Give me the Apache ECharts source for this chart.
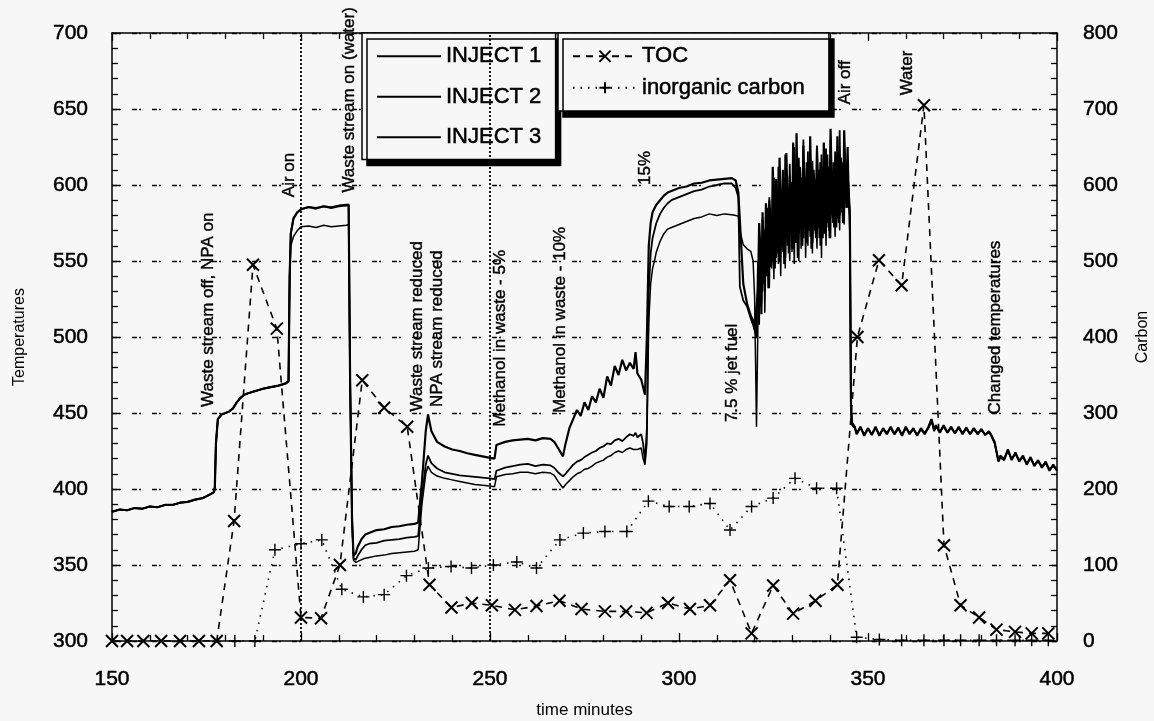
<!DOCTYPE html>
<html><head><meta charset="utf-8">
<script src="https://cdn.jsdelivr.net/npm/echarts@6/dist/echarts.min.js"></script>
<style>html,body{margin:0;padding:0;background:#f7f7f7}#chart{width:1154px;height:721px}</style>
</head><body><div id="chart"></div>
<script>
// ---------- DATA ----------
const minutes = [
 150,152,154,156,158,160,162,164,166,168,170,172,174,176,177,
 177.2,177.5,178,179,180,181,182,183,184,185,186,188,190,192,194,196,196.7,
 197,197.3,198,199,200,202,204,206,208,210,212,212.6,
 213,213.5,213.9,214.5,215,216,217,218,220,222,224,226,228,230,231,232,233,233.6,234.5,236,238,240,242,244,246,248,250,251.2,251.7,
 252,254,256,258,260,262,264,266,267,268,269.3,
 270,271,272,273,274,275,276,277,278,279,280,281,282,283,284,285,286,287,288,288.5,289,290,290.5,291,291.5,
 292,292.5,293,293.6,294,295,296,297,298,300,302,304,306,308,310,312,314,315,315.7,316.1,317,318,319,319.6,320,320.5,
 320.9,321.2,321.5,321.8,322.1,322.4,322.7,323.0,323.3,323.6,
 323.9,324.2,324.5,324.8,325.1,325.4,325.7,326.0,326.3,326.6,
 326.9,327.2,327.5,327.8,328.1,328.4,328.7,329.0,329.3,329.6,
 329.9,330.2,330.5,330.8,331.1,331.4,331.7,332.0,332.3,332.6,
 332.9,333.2,333.5,333.8,334.1,334.4,334.7,335.0,335.3,335.6,
 335.9,336.2,336.5,336.8,337.1,337.4,337.7,338.0,338.3,338.6,
 338.9,339.2,339.5,339.8,340.1,340.4,340.7,341.0,341.3,341.6,
 341.9,342.2,342.5,342.8,343.1,343.4,343.7,344.0,344.3,344.6,
 344.9,
 345.2,345.5,345.8,346.5,
 347,348,349,350,351,352,353,354,355,356,357,358,359,360,361,362,363,364,365,366,
 366.8,367.5,
 368,369,370,371,372,373,374,375,376,377,378,379,380,381,382,
 382.5,383.5,384.5,
 385,386,387,388,389,390,391,392,393,394,395,396,397,398,399,400
];
// 150 - 196.7 min: the three thermocouples coincide
const sharedStart = [
 385,386.5,386,387.5,387,388.5,388,389.5,389.5,391,391.5,393,394,396.5,398,
 401,430,446,449,450,451,453,457,460,462,463,464.5,466,467,468,469.5,471
];
const inject1Rest = [
 540,560,566,570,572.5,573,572,573.5,572.5,573,573.5,574,
 470,380,353,351.7,352,353.5,354.5,355,356,356.5,357.5,358,358.5,359,360,390,410,415,411,408.5,407,406,405,404,403,402.5,402,401.5,408,
 409,409.5,410,411,411,410,411,410.5,409,405,400.7,
 403,405.5,408,410,411,413,413.5,415,417,418,419,421,422,424,425,424,426,427,426,427,426,427,420,416,430,
 510,535,545,551,556,563,568,571,572,574,576,578,579,581,580,581,580.5,580,579.4,570,560.7,558,556.3,550,526.7,441,
 512,548,520,560,530,572,516,555,540,578,
 532,585,545,568,538,590,552,575,548,598,
 540,582,556,604,545,590,560,576,550,600,
 556,585,548,606,562,592,550,610,558,588,
 565,602,552,596,560,615,566,592,555,606,
 570,590,558,604,565,598,552,612,568,594,
 560,608,572,596,565,615,575,600,566,618,
 578,604,570,612,582,598,574,620,585,606,
 600,
 585,452,444,441,
 436.5,440.5,435.5,440,436,440.5,435.5,439.5,436.5,440.5,436.5,440,435.5,440.5,436.5,439.5,435.5,439.5,436.5,440.5,
 445.5,438.5,
 441.5,437.5,441.5,437,440.5,437,440.5,436.5,440,436.5,439.5,436.5,439,435.5,437.5,
 436,430.5,418.5,
 421.5,419.5,425.5,419.5,423.5,418.5,421.5,416.5,420.5,415.5,418.5,414.5,417.5,412.5,415.5,412.5
];
const inject2Rest = [
 540,568,578,582,584,585.5,585,586,585.5,586.5,587,587,
 470,380,354,353.5,356,360,363,364,364.5,366,366.5,367,368,368.5,369,395,416,422,417,413.5,411,410,409,408.5,408,407.5,407,406.5,412,
 413,414,415,416,416.5,415,416,415.5,414,411,408.3,
 410,413,416,418,419,421,422.5,424,425,427,428,430,429.5,432,433,431.5,434,436,435,437,434,436,430,418,440,
 530,555,565,571,575,581,585,588,590,592,594,596,597,599,600,601,601,598,592,533,524,520,512,508,507,500,
 550,508,565,522,578,535,570,545,585,532,
 592,546,580,555,605,545,598,560,612,550,
 596,562,608,548,620,565,600,555,614,570,
 602,558,625,565,598,552,618,570,605,560,
 630,575,600,562,622,570,608,558,616,575,
 604,565,626,572,610,560,620,578,606,568,
 624,575,612,565,630,580,608,572,622,585,
 610,575,636,588,615,578,628,590,612,585,
 595,
 570,450,442,440,
 437,440,436,439.5,436,440,436,439,437,440,436,439.5,436,440,437,439,436,439,437,440,
 445,438,
 441,438,441,437.5,440,437,440,437,439.5,436.5,439,437,438.5,436,437,
 435.5,430,419,
 422,420,425,420,423,419,421,417,420,416,418,415,417,413,415,413
];
const inject3Rest = [
 540,568,578,582,584,585.5,584.5,586,585,586,586.5,587,
 470,380,356,357.9,362,367,370,371,373,373.5,375,375.5,376.5,377,378,405,438,449,438,431,428,426,425,423.5,422.5,421.5,420.5,420,429,
 430,431,432,432.5,433,432,433.5,433,431,427,421.5,
 430,440,446,452,448,457,452,461,457,466,460,474,468,481,475,485,478,483,479,490,476,472,467,462,500,
 560,575,582,585,587,590,593,595,596,598,599,601,601.5,603,603.5,604,604.5,603,595,577,535,522,514,511,505,520,
 530,575,560,515,582,550,540,588,568,545,
 590,575,550,612,585,548,604,590,555,618,
 588,560,610,595,552,621,590,565,606,585,
 558,628,600,562,634,590,568,612,596,560,
 626,600,565,615,592,570,632,598,562,610,
 595,568,624,600,572,615,590,565,628,605,
 575,620,598,570,637,602,578,615,595,572,
 632,605,580,618,598,575,636,608,585,625,
 590,
 580,455,443,441,
 436,441,435,440,435.5,441,435,440,436,441,436,440.5,435,441,436,440,435,440,436,441,
 446,439,
 442,437,442,437,441,436.5,441,436,440.5,436,440,436,439.5,435.5,438,
 436,431,418,
 421,419,426,419,424,418,422,416,421,415,419,414,418,412,416,412
];
// TOC and inorganic carbon samples: [minute, carbon]
const tocSamples = [
 [150,0],[154,0],[158.3,0],[163,0],[168,0],[173,0],[177.7,0],[182.3,158],[187.3,495],[193.6,411],
 [200,31],[205.3,30],[210.3,100],[216.2,343],[222,307],[228.1,282],[234,74],[239.8,44],[245.2,50],[250.5,47],
 [256.6,41],[262.3,46],[268.4,53],[274.2,42],[280.4,39],[286,39],[291.4,37],[297.1,50],[302.9,42],[308.2,47],
 [313.5,80],[319.2,10],[324.9,73],[330.2,36],[336.1,53],[341.9,74],[347.2,400],[352.9,501],[358.9,468],[364.8,705],
 [370.1,126],[374.5,47],[379.4,31],[384,15],[388.9,12],[393.3,10],[397.7,10]
];
const inorganicSamples = [
 [182.5,0],[187.8,0],[193.1,120],[200,128],[205.5,133],[210.8,68],[216.5,58],[222,61],[227.9,86],[233.7,96],
 [239.7,98],[245.1,96],[250.9,100],[257.1,104],[262.3,96],[268.5,133],[274.7,142],[280.4,144],[286.2,144],[291.9,184],
 [297.4,177],[302.7,177],[308.2,181],[313.5,146],[319.2,177],[324.9,188],[330.7,214],[336.4,201],[341.7,201],
 [347,5],[353,2],[358.9,1],[364.8,1],[370.1,1],[374.5,1],[379.4,1],[384,1],[388.9,1],[393.3,1],[397.7,1]
];
const eventLines = [200, 250];
// annotation text, minute, temperature at text start
const annotations = [
 ['Waste stream off, NPA on', 175.4, 454],
 ['Air on', 197.0, 592],
 ['Waste stream on (water)', 212.9, 595],
 ['Waste stream reduced', 230.7, 451],
 ['NPA stream reduced', 236.0, 454],
 ['Methanol in waste - 5%', 252.6, 441],
 ['Methanol in waste - 10%', 268.5, 450],
 ['15%', 291.0, 600],
 ['7.5 % jet fuel', 314.0, 444],
 ['Air off', 343.9, 653],
 ['Water', 360.3, 659],
 ['Changed temperatures', 383.6, 449]
];
const seriesNames = ['INJECT 1', 'INJECT 2', 'INJECT 3', 'TOC', 'inorganic carbon'];

// ---------- BUILD ----------
const inj = [inject1Rest, inject2Rest, inject3Rest].map(r => sharedStart.concat(r));
const zip = vals => minutes.map((t, i) => [t, vals[i]]);
const mismatch = inj.some(v => v.length !== minutes.length);

const FONT = '"Liberation Sans", Arial, Helvetica, sans-serif';
const X_PATH = 'path://M0 0L10 10M10 0L0 10';
const PLUS_PATH = 'path://M5 0L5 10M0 5L10 5';
const BOLDEN = {textBorderColor: '#000', textBorderWidth: 0.5};

const chart = echarts.init(document.getElementById('chart'));
const tickStyle = {color: '#000', width: 1.3};
const legendCommon = {
  orient: 'vertical', itemWidth: 64, selectedMode: false,
  backgroundColor: '#f7f7f7', borderColor: '#000', borderWidth: 1.5,
  shadowColor: '#000', shadowBlur: 0, shadowOffsetX: 5, shadowOffsetY: 6,
  textStyle: Object.assign({fontSize: 22, color: '#000', fontFamily: FONT}, BOLDEN)
};
const injWidths = [1.5, 1.8, 2.2];
const series = inj.map((vals, k) => ({
  name: seriesNames[k], type: 'line', data: zip(vals), symbol: 'none',
  lineStyle: {color: '#000', width: injWidths[k]}, itemStyle: {color: '#000'},
  animation: false, z: 3,
  markLine: k === 2 ? {silent: true, symbol: 'none', label: {show: false}, animation: false,
    lineStyle: {color: '#000', type: [2, 2], width: 1.8},
    data: eventLines.map(v => ({xAxis: v}))} : undefined
}));
series.push({
  name: seriesNames[3], type: 'line', yAxisIndex: 1, data: tocSamples,
  symbol: X_PATH, symbolSize: 12, showAllSymbol: true,
  itemStyle: {color: '#000', borderColor: '#000', borderWidth: 2},
  lineStyle: {color: '#000', width: 1.6, type: [7, 6]}, animation: false, z: 4
});
series.push({
  name: seriesNames[4], type: 'line', yAxisIndex: 1, data: inorganicSamples,
  symbol: PLUS_PATH, symbolSize: 12, showAllSymbol: true,
  itemStyle: {color: '#000', borderColor: '#000', borderWidth: 1.4},
  lineStyle: {color: '#000', width: 1.6, type: [1.5, 6]}, animation: false, z: 4
});

const labelStyle = Object.assign({fontSize: 21, color: '#000', fontFamily: FONT}, BOLDEN);

chart.setOption({
  backgroundColor: '#f7f7f7',
  animation: false,
  grid: {left: 112, right: 97, top: 33, bottom: 80, containLabel: false, outerBoundsMode: 'none'},
  legend: [
    Object.assign({}, legendCommon, {
      data: seriesNames.slice(0, 3).map(n => ({name: n, icon: 'rect'})),
      itemHeight: 2, left: 362, top: 33, itemGap: 18, padding: [12, 14, 11, 15]}),
    Object.assign({}, legendCommon, {data: seriesNames.slice(3), itemHeight: 14,
      left: 558, top: 33, itemGap: 9, padding: [12, 24, 12, 14]})
  ],
  xAxis: [
    {type: 'value', min: 150, max: 400, interval: 50, position: 'bottom',
     name: 'time minutes', nameLocation: 'middle', nameGap: 61,
     nameTextStyle: {fontSize: 17, color: '#000', fontFamily: FONT},
     axisLine: {lineStyle: {color: '#000', width: 1.5}},
     axisTick: {inside: true, length: 8, lineStyle: tickStyle},
     minorTick: {show: true, splitNumber: 5, length: 6, lineStyle: tickStyle},
     axisLabel: Object.assign({margin: 28}, labelStyle),
     splitLine: {show: false}},
    {type: 'value', min: 150, max: 400, interval: 50, position: 'top',
     axisLine: {lineStyle: {color: '#000', width: 1.5}},
     axisTick: {inside: true, length: 8, lineStyle: tickStyle},
     minorTick: {show: true, splitNumber: 5, length: 6, lineStyle: tickStyle},
     axisLabel: {show: false}, splitLine: {show: false}}
  ],
  yAxis: [
    {type: 'value', min: 300, max: 700, interval: 50, position: 'left',
     name: 'Temperatures', nameLocation: 'middle', nameGap: 84,
     nameTextStyle: {fontSize: 16, color: '#000', fontFamily: FONT},
     axisLine: {show: true, lineStyle: {color: '#000', width: 1.5}},
     axisTick: {show: true, inside: true, length: 8, lineStyle: tickStyle},
     minorTick: {show: true, splitNumber: 5, length: 6, lineStyle: tickStyle},
     axisLabel: Object.assign({margin: 24}, labelStyle),
     splitLine: {show: true, lineStyle: {color: '#000', width: 1.3, type: [5, 2, 2, 11]}}},
    {type: 'value', min: 0, max: 800, interval: 100, position: 'right',
     name: 'Carbon', nameLocation: 'middle', nameGap: 78,
     nameTextStyle: {fontSize: 16, color: '#000', fontFamily: FONT},
     axisLine: {show: true, lineStyle: {color: '#000', width: 1.5}},
     axisTick: {show: true, inside: true, length: 8, lineStyle: tickStyle},
     minorTick: {show: true, splitNumber: 5, length: 6, lineStyle: tickStyle},
     axisLabel: Object.assign({margin: 26}, labelStyle),
     splitLine: {show: false}}
  ],
  series: series
});

const graphics = annotations.map(([txt, t, T]) => {
  const p = chart.convertToPixel({xAxisIndex: 0, yAxisIndex: 0}, [t, T]);
  return {type: 'text', x: p[0], y: p[1], rotation: Math.PI / 2, z: 20,
    style: {text: txt, fill: '#000', fontSize: 17, fontFamily: FONT, stroke: '#000', lineWidth: 0.4,
      align: 'left', verticalAlign: 'middle', textAlign: 'left', textVerticalAlign: 'middle'}};
});
if (mismatch) graphics.push({type: 'text', left: 10, top: 10, style: {text: 'LENGTH MISMATCH ' + inj.map(v => v.length).join(',') + ' vs ' + minutes.length, fill: 'red', fontSize: 20}});
chart.setOption({graphic: graphics});
</script></body></html>
